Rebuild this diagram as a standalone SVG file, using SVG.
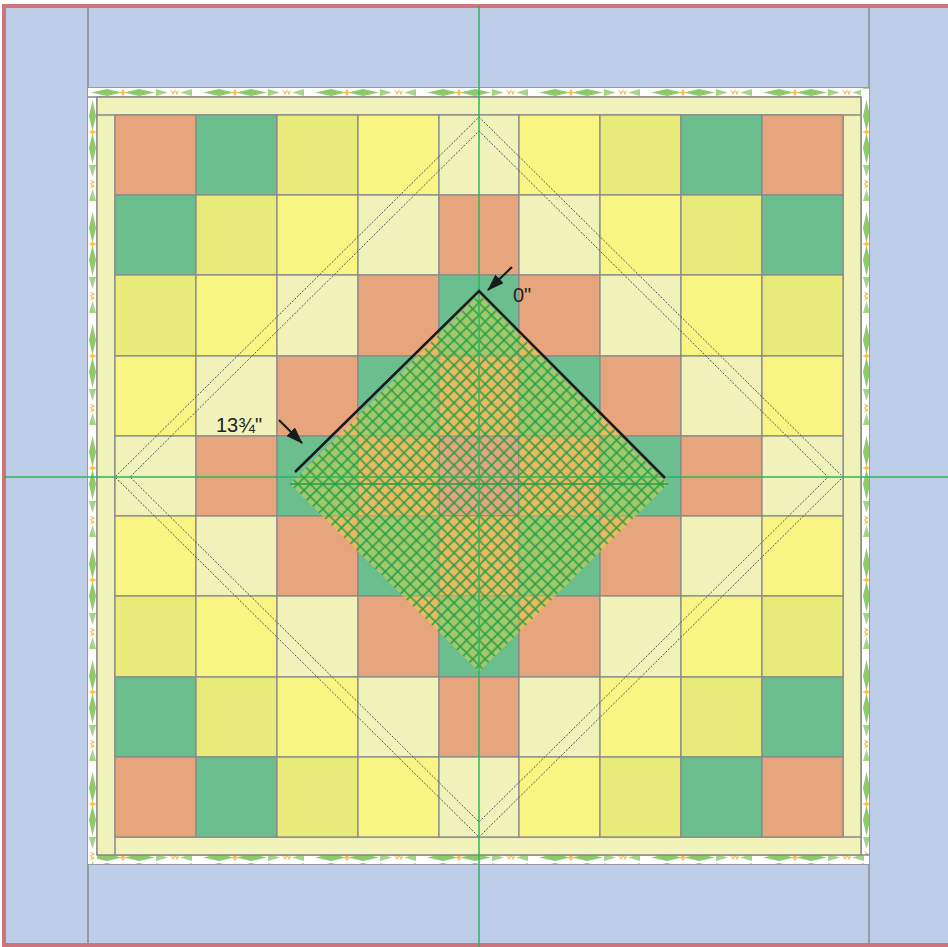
<svg xmlns="http://www.w3.org/2000/svg" width="948" height="947" viewBox="0 0 948 947">
<defs>
<style>
.o{fill:#E6A57C}.g{fill:#6BBF8F}.yg{fill:#E8EA7A}.y{fill:#F8F583}.c{fill:#F0F2B9}
.cells rect{stroke:#8A8A8A;stroke-width:1.3}
.seam{stroke:#8A8A8A;stroke-width:1.5;fill:none}
.dash{fill:none;stroke:#555;stroke-width:1;stroke-dasharray:2 1.5}
.cross{stroke:#2DB55D;stroke-width:1.5}
.blk{stroke:#1A1A1A;stroke-width:2.5;fill:none}
.arr{stroke:#1A1A1A;stroke-width:2.2;fill:none}
.lbl{font-family:"Liberation Sans",Arial,sans-serif;font-size:20px;fill:#222}
</style>
<pattern id="prh" patternUnits="userSpaceOnUse" x="88" y="88" width="112" height="9">
<rect width="112" height="9" fill="#fff"/>
<path d="M3 4.5 L19 1 L34 4.5 L19 8Z M36 4.5 L51 1 L67 4.5 L51 8Z" fill="#8CCB6A"/>
<path d="M35 0.5 L36.2 3.3 L39 4.5 L36.2 5.7 L35 8.5 L33.8 5.7 L31 4.5 L33.8 3.3Z" fill="#F6C24A"/>
<path d="M68 1 L80 4.5 L68 8Z M104 1 L92 4.5 L104 8Z" fill="#A6D487"/>
<path d="M82 1.5 L85 7 L88 1.5 L85 4Z M86 1.5 L89 7 L92 1.5 L89 4Z" fill="#F4C04A"/>
</pattern>
<pattern id="prv" patternUnits="userSpaceOnUse" x="88" y="97" width="9" height="112">
<g transform="matrix(0 1 1 0 0 0)">
<rect width="112" height="9" fill="#fff"/>
<path d="M3 4.5 L19 1 L34 4.5 L19 8Z M36 4.5 L51 1 L67 4.5 L51 8Z" fill="#8CCB6A"/>
<path d="M35 0.5 L36.2 3.3 L39 4.5 L36.2 5.7 L35 8.5 L33.8 5.7 L31 4.5 L33.8 3.3Z" fill="#F6C24A"/>
<path d="M68 1 L80 4.5 L68 8Z M104 1 L92 4.5 L104 8Z" fill="#A6D487"/>
<path d="M82 1.5 L85 7 L88 1.5 L85 4Z M86 1.5 L89 7 L92 1.5 L89 4Z" fill="#F4C04A"/>
</g>
</pattern>
<pattern id="hatch" patternUnits="userSpaceOnUse" width="8.84" height="8.84" patternTransform="rotate(45 479 484)" x="479" y="484">
<path d="M0 4.42H8.84M4.42 0V8.84" stroke="#1E9E4A" stroke-width="1.6" fill="none"/>
</pattern>
<marker id="ah" viewBox="0 0 17 12" refX="16" refY="6" markerWidth="17" markerHeight="12" markerUnits="userSpaceOnUse" orient="auto">
<path d="M0 0 L17 6 L0 12 Z" fill="#1A1A1A"/>
</marker>
</defs>

<g id="background">
<rect x="4" y="6" width="950" height="939" fill="#BECDE8" stroke="#D0747C" stroke-width="4"/>
<path class="seam" d="M88 8V945 M869 8V945 M88 88H869 M88 864H869"/>
</g>

<g id="print-border">
<rect x="88" y="88" width="773" height="9" fill="url(#prh)"/>
<rect x="97" y="855" width="772" height="9" fill="url(#prh)"/>
<rect x="88" y="97" width="9" height="767" fill="url(#prv)"/>
<rect x="861" y="88" width="8" height="767" fill="url(#prv)"/>
<path class="seam" d="M88 97H861 M97 855H869 M97 97V855 M861 97V855"/>
</g>

<g id="inner-border">
<rect x="97" y="97" width="764" height="758" class="c" stroke="#8A8A8A" stroke-width="1.5"/>
<path class="seam" d="M97 115H861 M115 115V855 M115 837H861 M843 115V837"/>
</g>

<g id="cells" class="cells">
<rect class="o" x="115" y="115" width="81" height="80"/><rect class="g" x="196" y="115" width="81" height="80"/><rect class="yg" x="277" y="115" width="81" height="80"/><rect class="y" x="358" y="115" width="81" height="80"/><rect class="c" x="439" y="115" width="80" height="80"/><rect class="y" x="519" y="115" width="81" height="80"/><rect class="yg" x="600" y="115" width="81" height="80"/><rect class="g" x="681" y="115" width="81" height="80"/><rect class="o" x="762" y="115" width="81" height="80"/>
<rect class="g" x="115" y="195" width="81" height="80"/><rect class="yg" x="196" y="195" width="81" height="80"/><rect class="y" x="277" y="195" width="81" height="80"/><rect class="c" x="358" y="195" width="81" height="80"/><rect class="o" x="439" y="195" width="80" height="80"/><rect class="c" x="519" y="195" width="81" height="80"/><rect class="y" x="600" y="195" width="81" height="80"/><rect class="yg" x="681" y="195" width="81" height="80"/><rect class="g" x="762" y="195" width="81" height="80"/>
<rect class="yg" x="115" y="275" width="81" height="81"/><rect class="y" x="196" y="275" width="81" height="81"/><rect class="c" x="277" y="275" width="81" height="81"/><rect class="o" x="358" y="275" width="81" height="81"/><rect class="g" x="439" y="275" width="80" height="81"/><rect class="o" x="519" y="275" width="81" height="81"/><rect class="c" x="600" y="275" width="81" height="81"/><rect class="y" x="681" y="275" width="81" height="81"/><rect class="yg" x="762" y="275" width="81" height="81"/>
<rect class="y" x="115" y="356" width="81" height="80"/><rect class="c" x="196" y="356" width="81" height="80"/><rect class="o" x="277" y="356" width="81" height="80"/><rect class="g" x="358" y="356" width="81" height="80"/><rect class="o" x="439" y="356" width="80" height="80"/><rect class="g" x="519" y="356" width="81" height="80"/><rect class="o" x="600" y="356" width="81" height="80"/><rect class="c" x="681" y="356" width="81" height="80"/><rect class="y" x="762" y="356" width="81" height="80"/>
<rect class="c" x="115" y="436" width="81" height="80"/><rect class="o" x="196" y="436" width="81" height="80"/><rect class="g" x="277" y="436" width="81" height="80"/><rect class="o" x="358" y="436" width="81" height="80"/><rect class="o" x="439" y="436" width="80" height="80"/><rect class="o" x="519" y="436" width="81" height="80"/><rect class="g" x="600" y="436" width="81" height="80"/><rect class="o" x="681" y="436" width="81" height="80"/><rect class="c" x="762" y="436" width="81" height="80"/>
<rect class="y" x="115" y="516" width="81" height="80"/><rect class="c" x="196" y="516" width="81" height="80"/><rect class="o" x="277" y="516" width="81" height="80"/><rect class="g" x="358" y="516" width="81" height="80"/><rect class="o" x="439" y="516" width="80" height="80"/><rect class="g" x="519" y="516" width="81" height="80"/><rect class="o" x="600" y="516" width="81" height="80"/><rect class="c" x="681" y="516" width="81" height="80"/><rect class="y" x="762" y="516" width="81" height="80"/>
<rect class="yg" x="115" y="596" width="81" height="81"/><rect class="y" x="196" y="596" width="81" height="81"/><rect class="c" x="277" y="596" width="81" height="81"/><rect class="o" x="358" y="596" width="81" height="81"/><rect class="g" x="439" y="596" width="80" height="81"/><rect class="o" x="519" y="596" width="81" height="81"/><rect class="c" x="600" y="596" width="81" height="81"/><rect class="y" x="681" y="596" width="81" height="81"/><rect class="yg" x="762" y="596" width="81" height="81"/>
<rect class="g" x="115" y="677" width="81" height="80"/><rect class="yg" x="196" y="677" width="81" height="80"/><rect class="y" x="277" y="677" width="81" height="80"/><rect class="c" x="358" y="677" width="81" height="80"/><rect class="o" x="439" y="677" width="80" height="80"/><rect class="c" x="519" y="677" width="81" height="80"/><rect class="y" x="600" y="677" width="81" height="80"/><rect class="yg" x="681" y="677" width="81" height="80"/><rect class="g" x="762" y="677" width="81" height="80"/>
<rect class="o" x="115" y="757" width="81" height="80"/><rect class="g" x="196" y="757" width="81" height="80"/><rect class="yg" x="277" y="757" width="81" height="80"/><rect class="y" x="358" y="757" width="81" height="80"/><rect class="c" x="439" y="757" width="80" height="80"/><rect class="y" x="519" y="757" width="81" height="80"/><rect class="yg" x="600" y="757" width="81" height="80"/><rect class="g" x="681" y="757" width="81" height="80"/><rect class="o" x="762" y="757" width="81" height="80"/>
</g>

<g id="stencil-guides">
<polygon class="dash" points="479,117 843,477 479,837 115,477"/>
<polygon class="dash" points="479,131 828,477 479,822 130,477"/>
</g>

<g id="hatched-area">
<path d="M479 294 L668 484 L479 672 L290 484 Z M439 436 V516 H519 V436 Z" fill="#F5D43A" fill-opacity="0.42" fill-rule="evenodd"/>
<polygon points="479,294 668,484 479,672 290,484" fill="url(#hatch)"/>
<line x1="290" y1="484" x2="668" y2="484" stroke="#1E9E4A" stroke-width="1.5"/>
</g>

<g id="crosshair">
<line class="cross" x1="479" y1="6" x2="479" y2="947"/>
<line class="cross" x1="4" y1="477" x2="948" y2="477"/>
</g>

<g id="connectors">
<polyline class="blk" points="295,472 479,291 665,478"/>
<line class="arr" x1="512" y1="267" x2="488" y2="290" marker-end="url(#ah)"/>
<line class="arr" x1="279" y1="420" x2="302" y2="443" marker-end="url(#ah)"/>
</g>

<g id="labels">
<text class="lbl" x="513" y="302">0"</text>
<text class="lbl" x="216" y="432">13¾"</text>
</g>
</svg>
